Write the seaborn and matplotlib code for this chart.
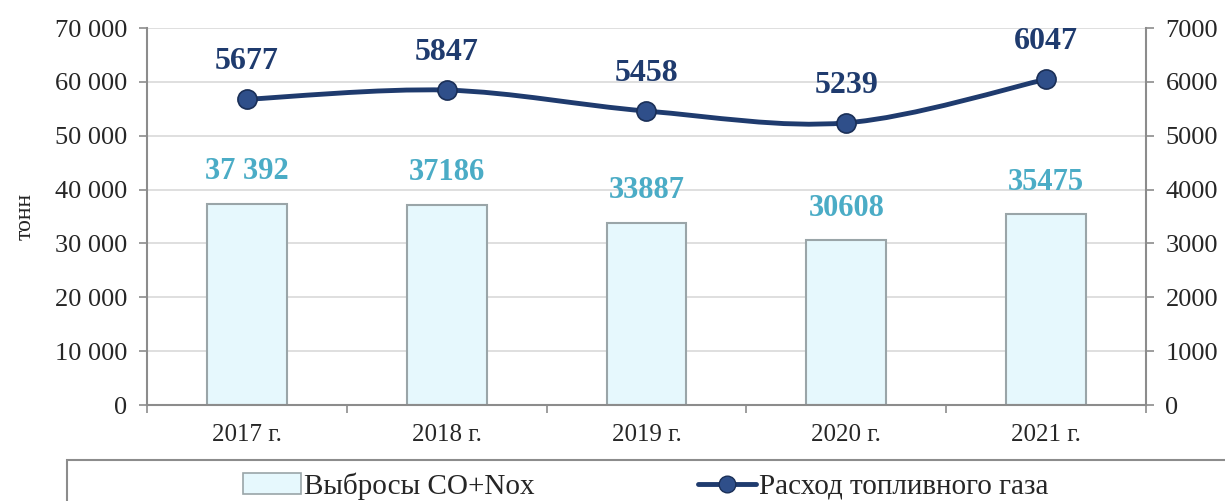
import pandas as pd
import seaborn as sns
import matplotlib.pyplot as plt
from matplotlib.path import Path
from matplotlib.patches import PathPatch, Rectangle, Patch
from matplotlib.lines import Line2D
from matplotlib.ticker import FuncFormatter

years = ["2017 г.", "2018 г.", "2019 г.", "2020 г.", "2021 г."]
emissions = [37392, 37186, 33887, 30608, 35475]
emission_labels = ["37 392", "37186", "33887", "30608", "35475"]
gas = [5677, 5847, 5458, 5239, 6047]
gas_labels = ["5677", "5847", "5458", "5239", "6047"]
series_names = ["Выбросы CO+Nox", "Расход топливного газа"]

BAR_FILL = "#E6F8FD"
BAR_EDGE = "#9AA5A8"
LINE_COLOR = "#1F3B6E"
AXIS_GRAY = "#8C8C8C"

sns.set_theme(style="white")
plt.rcParams["font.family"] = ["Liberation Serif", "DejaVu Serif"]

fig = plt.figure(figsize=(12.25, 5.01), dpi=100)
ax = fig.add_axes([0.12, 0.1916, 0.8155, 0.7525])

df = pd.DataFrame({"year": years, "emissions": emissions})
sns.barplot(data=df, x="year", y="emissions", ax=ax, color=BAR_FILL,
            edgecolor=BAR_EDGE, linewidth=1.5, width=0.4, saturation=1)

ax.set_xlim(-0.5, 4.5)
ax.set_ylim(0, 70000)
ax.set_yticks(range(0, 70001, 10000))
ax.yaxis.set_major_formatter(FuncFormatter(lambda v, p: f"{int(v):,}".replace(",", " ")))
ax.grid(axis="y", color="#D9D9D9", lw=1.2)
ax.set_axisbelow(True)
for s in ["top", "right"]:
    ax.spines[s].set_visible(False)
for s in ["left", "bottom"]:
    ax.spines[s].set_color(AXIS_GRAY)
    ax.spines[s].set_linewidth(1.5)
ax.tick_params(axis="y", direction="out", length=6, width=1.2, color=AXIS_GRAY,
               labelsize=19, pad=8, left=True)
ax.set_xticks([i - 0.5 for i in range(6)], minor=True)
ax.tick_params(axis="x", which="minor", direction="out", length=6, width=1.2,
               color=AXIS_GRAY, bottom=True)
ax.tick_params(axis="x", which="major", length=0, labelsize=18, pad=14)
ax.set_xlabel("")
ax.set_ylabel("тонн", fontsize=17, labelpad=14)

for i, (v, lab) in enumerate(zip(emissions, emission_labels)):
    ax.annotate(lab, (i, v), xytext=(0, 23), textcoords="offset points",
                ha="center", va="center", fontsize=22, fontweight="bold",
                color="#4BACC6")

ax2 = ax.twinx()
ax2.set_ylim(0, 7000)
ax2.set_yticks(range(0, 7001, 1000))
ax2.grid(False)
for s in ["top", "left", "bottom"]:
    ax2.spines[s].set_visible(False)
ax2.spines["right"].set_color(AXIS_GRAY)
ax2.spines["right"].set_linewidth(1.5)
ax2.tick_params(axis="y", direction="out", length=6, width=1.2, color=AXIS_GRAY,
                labelsize=19, pad=8, right=True)

# smoothed line through the points (Catmull-Rom as cubic beziers)
pts = list(zip(range(len(gas)), gas))
verts = [pts[0]]
codes = [Path.MOVETO]
for i in range(len(pts) - 1):
    p0 = pts[max(i - 1, 0)]
    p1 = pts[i]
    p2 = pts[i + 1]
    p3 = pts[min(i + 2, len(pts) - 1)]
    c1 = (p1[0] + (p2[0] - p0[0]) / 6, p1[1] + (p2[1] - p0[1]) / 6)
    c2 = (p2[0] - (p3[0] - p1[0]) / 6, p2[1] - (p3[1] - p1[1]) / 6)
    verts += [c1, c2, p2]
    codes += [Path.CURVE4] * 3
ax2.add_patch(PathPatch(Path(verts, codes), fill=False, edgecolor=LINE_COLOR,
                        lw=3.5, capstyle="round", zorder=3))

sns.scatterplot(x=list(range(len(gas))), y=gas, ax=ax2, s=190, color="#2F4F8A",
                edgecolor="#1A2F57", linewidth=1.2, zorder=5)

for i, (v, lab) in enumerate(zip(gas, gas_labels)):
    ax2.annotate(lab, (i, v), xytext=(0, 27), textcoords="offset points",
                 ha="center", va="center", fontsize=23, fontweight="bold",
                 color=LINE_COLOR)

handles = [
    Patch(facecolor=BAR_FILL, edgecolor=BAR_EDGE, lw=1.2),
    Line2D([], [], color=LINE_COLOR, lw=3.5, marker="o", ms=12,
           markerfacecolor="#2F4F8A", markeredgecolor="#1A2F57"),
]
fig.legend(handles, series_names, loc="center", bbox_to_anchor=(0.527, 0.03),
           ncol=2, frameon=False, fontsize=21, columnspacing=5.6,
           handlelength=2.0, handletextpad=0.1)
fig.add_artist(Rectangle((67 / 1225, -0.1), 1.2, 41 / 501 + 0.1,
                         transform=fig.transFigure, fill=False,
                         edgecolor=AXIS_GRAY, lw=1.5))

fig.savefig("out.png", dpi=100)
